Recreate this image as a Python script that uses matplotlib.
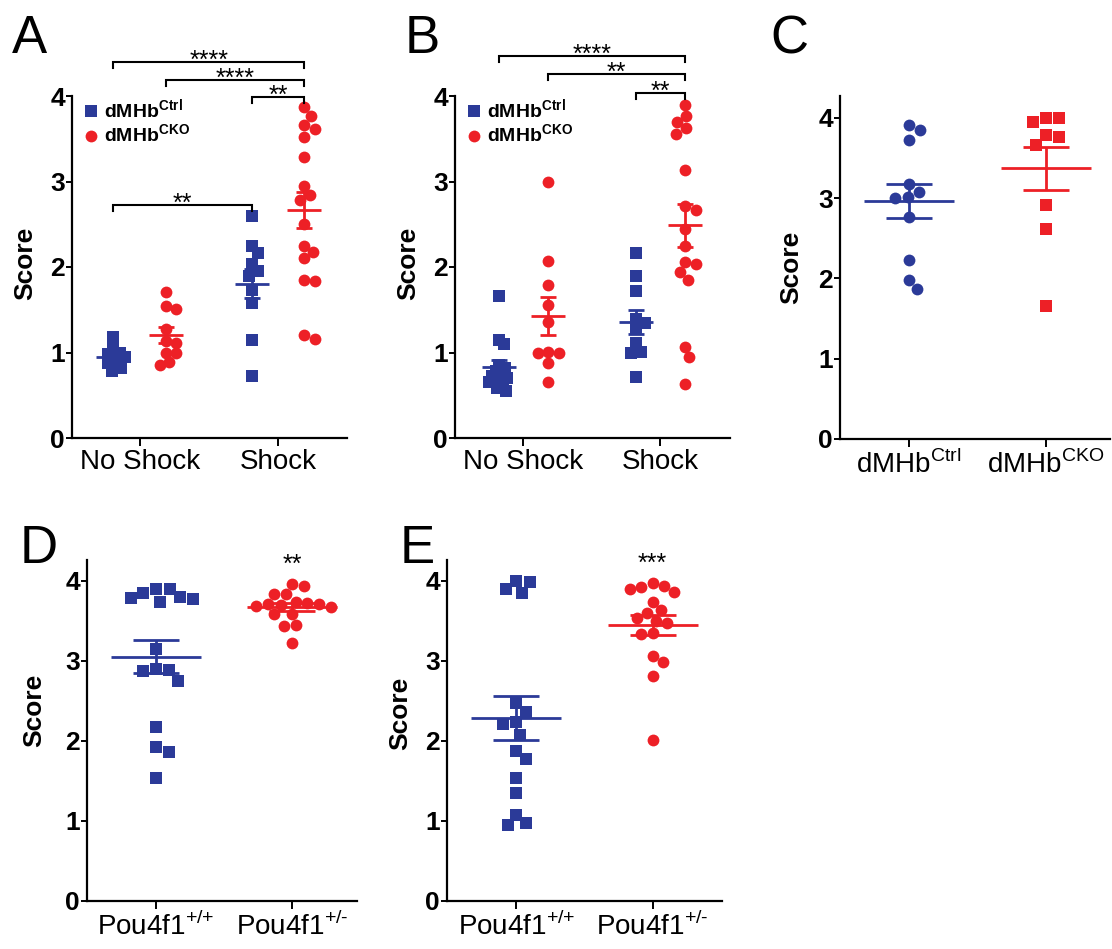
import numpy as np
import matplotlib.pyplot as plt
from matplotlib.lines import Line2D

plt.rcParams['font.family'] = ['Liberation Sans', 'DejaVu Sans']
plt.rcParams['mathtext.fontset'] = 'custom'
plt.rcParams['mathtext.rm'] = 'Liberation Sans'
plt.rcParams['mathtext.bf'] = 'Liberation Sans:bold'

BLUE = '#2B3A98'
RED = '#ED2026'

# panel A (scores, dMHb Ctrl / CKO, no shock vs shock)
a_ctrl_noshock = [1.18, 1.10, 1.02, 1.00, 0.98, 0.95, 0.93, 0.90, 0.88, 0.85, 0.82, 0.78]
a_cko_noshock = [1.71, 1.54, 1.51, 1.28, 1.13, 1.11, 1.00, 0.99, 0.89, 0.85]
a_ctrl_shock = [2.60, 2.25, 2.16, 2.04, 1.95, 1.89, 1.73, 1.58, 1.15, 0.72]
a_cko_shock = [3.87, 3.77, 3.66, 3.61, 3.52, 3.29, 2.95, 2.84, 2.78, 2.50, 2.25,
               2.17, 2.10, 1.85, 1.84, 1.21, 1.16]

# panel B
b_ctrl_noshock = [1.66, 1.15, 1.10, 0.85, 0.82, 0.78, 0.75, 0.72, 0.70, 0.68,
                  0.65, 0.62, 0.58, 0.55]
b_cko_noshock = [3.00, 2.07, 1.79, 1.55, 1.36, 1.01, 1.00, 0.99, 0.88, 0.66]
b_ctrl_shock = [2.16, 1.89, 1.72, 1.39, 1.34, 1.27, 1.11, 1.01, 0.99, 0.71]
b_cko_shock = [3.90, 3.77, 3.70, 3.62, 3.56, 3.13, 2.71, 2.67, 2.45, 2.24, 2.06,
               2.03, 1.94, 1.85, 1.07, 0.95, 0.63]

# panel C
c_ctrl = [3.91, 3.85, 3.72, 3.17, 3.08, 3.01, 3.00, 2.76, 2.23, 1.98, 1.87]
c_cko = [4.00, 4.00, 3.95, 3.78, 3.76, 3.66, 2.91, 2.61, 1.65]

# panel D
d_wt = [3.90, 3.90, 3.85, 3.80, 3.79, 3.77, 3.74, 3.15, 2.90, 2.88, 2.87, 2.75,
        2.17, 1.92, 1.86, 1.54]
d_het = [3.96, 3.94, 3.83, 3.83, 3.74, 3.72, 3.71, 3.71, 3.70, 3.68, 3.67, 3.59,
         3.58, 3.45, 3.43, 3.22]

# panel E
e_wt = [4.00, 3.99, 3.90, 3.85, 2.47, 2.36, 2.24, 2.21, 2.08, 1.88, 1.77, 1.54,
        1.35, 1.08, 0.97, 0.95]
e_het = [3.97, 3.94, 3.92, 3.90, 3.86, 3.73, 3.63, 3.60, 3.53, 3.50, 3.47, 3.35,
         3.33, 3.06, 2.99, 2.81, 2.01]

shock_labels = ['No Shock', 'Shock']
dmhb_labels = [r'dMHb$^{\text{Ctrl}}$', r'dMHb$^{\text{CKO}}$']
pou_labels = [r'Pou4f1$^{\text{+/+}}$', r'Pou4f1$^{\text{+/-}}$']
legend_labels = [r'dMHb$^{\mathbf{Ctrl}}$', r'dMHb$^{\mathbf{CKO}}$']


def swarm(values, unit_px, size_px):
    placed = []
    offs = []
    for v in values:
        y = v * unit_px
        cands = [0.0]
        for xj, yj in placed:
            dy = y - yj
            if abs(dy) < size_px:
                dx = np.sqrt(size_px ** 2 - dy ** 2)
                cands += [xj + dx, xj - dx]
        cands.sort(key=abs)
        best = 0.0
        for c in cands:
            if all((c - xj) ** 2 + (y - yj) ** 2 >= size_px ** 2 - 1e-6 for xj, yj in placed):
                best = c
                break
        placed.append((best, y))
        offs.append(best)
    return np.array(offs)


def setup_axes(rect, xlim, ylim):
    ax = fig.add_axes(rect)
    ax.set_xlim(*xlim)
    ax.set_ylim(*ylim)
    for s in ['top', 'right']:
        ax.spines[s].set_visible(False)
    for s in ['left', 'bottom']:
        ax.spines[s].set_linewidth(1.6)
    ax.set_yticks([0, 1, 2, 3, 4])
    ax.tick_params(axis='y', length=4, width=1.4, labelsize=19, pad=1)
    ax.tick_params(axis='x', length=6, width=1.4, labelsize=20, pad=2)
    for lab in ax.get_yticklabels():
        lab.set_fontweight('bold')
    ax.set_ylabel('Score', fontsize=19, fontweight='bold')
    return ax


def draw_group(ax, x, values, color, marker, mean_px, cap_px, ms, spread):
    bbox = ax.get_position()
    w_px = bbox.width * fig.get_figwidth() * fig.dpi
    h_px = bbox.height * fig.get_figheight() * fig.dpi
    x0, x1 = ax.get_xlim()
    y0, y1 = ax.get_ylim()
    px_x = w_px / (x1 - x0)
    px_y = h_px / (y1 - y0)
    vals = np.array(values)
    offs = swarm(vals, px_y, ms * 1.39 * spread) / px_x
    ax.plot(x + offs, vals, linestyle='none', marker=marker, ms=ms, color=color,
            markeredgewidth=0, clip_on=False, zorder=2)
    m = vals.mean()
    sem = vals.std(ddof=1) / np.sqrt(len(vals))
    mw = mean_px / px_x
    cw = cap_px / px_x
    ax.hlines(m, x - mw, x + mw, color=color, lw=2, zorder=3)
    ax.hlines([m - sem, m + sem], x - cw, x + cw, color=color, lw=2, zorder=3)
    ax.vlines(x, m - sem, m + sem, color=color, lw=2, zorder=3)


def bracket(ax, x0, x1, y, text, drop=0.07):
    ax.plot([x0, x0, x1, x1], [y - drop, y, y, y - drop], color='black', lw=1.5,
            clip_on=False, solid_joinstyle='miter')
    ax.text((x0 + x1) / 2, y - 0.07, text, ha='center', va='baseline', fontsize=18,
            clip_on=False)


def add_legend(ax):
    handles = [Line2D([], [], linestyle='none', marker='s', ms=8, color=BLUE, markeredgewidth=0),
               Line2D([], [], linestyle='none', marker='o', ms=8.5, color=RED, markeredgewidth=0)]
    ax.legend(handles, legend_labels, loc='upper left', bbox_to_anchor=(0.0, 1.03),
              frameon=False, prop={'size': 14, 'weight': 'bold'}, handlelength=0.8,
              handletextpad=0.25, labelspacing=0.1, borderaxespad=0.2)


W, H = 1112, 949
fig = plt.figure(figsize=(W / 100, H / 100), dpi=100)


def rect(left, top, right, bottom):
    return [left / W, 1 - bottom / H, (right - left) / W, (bottom - top) / H]


SQ, CI = 8, 8.5

# ---- A ----
axA = setup_axes(rect(72, 96, 347, 438), (-0.49, 1.5), (0, 4))
axA.set_xticks([0, 1], shock_labels)
off = 0.19
draw_group(axA, -off, a_ctrl_noshock, BLUE, 's', 17, 8, SQ, 0.6)
draw_group(axA, off, a_cko_noshock, RED, 'o', 17, 8, CI, 0.85)
draw_group(axA, 1 - off, a_ctrl_shock, BLUE, 's', 17, 8, SQ, 0.9)
draw_group(axA, 1 + off, a_cko_shock, RED, 'o', 17, 8, CI, 0.95)
bracket(axA, -off, 1 + off, 4.40, '****')
bracket(axA, off, 1 + off, 4.19, '****')
bracket(axA, 1 - off, 1 + off, 3.99, '**')
bracket(axA, -off, 1 - off, 2.73, '**')
add_legend(axA)
axA.yaxis.set_label_coords(-0.125, 0.51)

# ---- B ----
axB = setup_axes(rect(455, 96, 730, 438), (-0.5, 1.51), (0, 4))
axB.set_xticks([0, 1], shock_labels)
off = 0.18
draw_group(axB, -off, b_ctrl_noshock, BLUE, 's', 17, 8, SQ, 0.6)
draw_group(axB, off, b_cko_noshock, RED, 'o', 17, 8, CI, 0.9)
draw_group(axB, 1 - off, b_ctrl_shock, BLUE, 's', 17, 8, SQ, 0.9)
draw_group(axB, 1 + off, b_cko_shock, RED, 'o', 17, 8, CI, 0.95)
bracket(axB, -off, 1 + off, 4.47, '****')
bracket(axB, off, 1 + off, 4.26, '**')
bracket(axB, 1 - off, 1 + off, 4.04, '**')
add_legend(axB)
axB.yaxis.set_label_coords(-0.127, 0.51)

# ---- C ----
axC = setup_axes(rect(840, 96, 1110, 439), (-0.5, 1.47), (0, 4.27))
axC.set_xticks([0, 1], dmhb_labels)
draw_group(axC, 0, c_ctrl, BLUE, 'o', 45, 23, CI, 1.05)
draw_group(axC, 1, c_cko, RED, 's', 45, 23, SQ, 1.2)
axC.yaxis.set_label_coords(-0.137, 0.5)

# ---- D ----
axD = setup_axes(rect(87, 560, 357, 901), (-0.51, 1.48), (0, 4.26))
axD.set_xticks([0, 1], pou_labels)
draw_group(axD, 0, d_wt, BLUE, 's', 45, 23, SQ, 1.2)
draw_group(axD, 1, d_het, RED, 'o', 45, 23, CI, 1.0)
axD.text(1, 4.11, '**', ha='center', va='baseline', fontsize=18)
axD.yaxis.set_label_coords(-0.15, 0.56)

# ---- E ----
axE = setup_axes(rect(447, 560, 722, 901), (-0.51, 1.51), (0, 4.26))
axE.set_xticks([0, 1], pou_labels)
draw_group(axE, 0, e_wt, BLUE, 's', 45, 23, SQ, 1.2)
draw_group(axE, 1, e_het, RED, 'o', 45, 23, CI, 1.0)
axE.text(1, 4.13, '***', ha='center', va='baseline', fontsize=18)
axE.yaxis.set_label_coords(-0.127, 0.55)

# panel letters
for letter, x, y in [('A', 12, 53), ('B', 405, 53), ('C', 770, 53), ('D', 20, 563), ('E', 400, 563)]:
    fig.text(x / W, 1 - y / H, letter, fontsize=38, ha='left', va='baseline')

fig.savefig('out.png', dpi=100)
